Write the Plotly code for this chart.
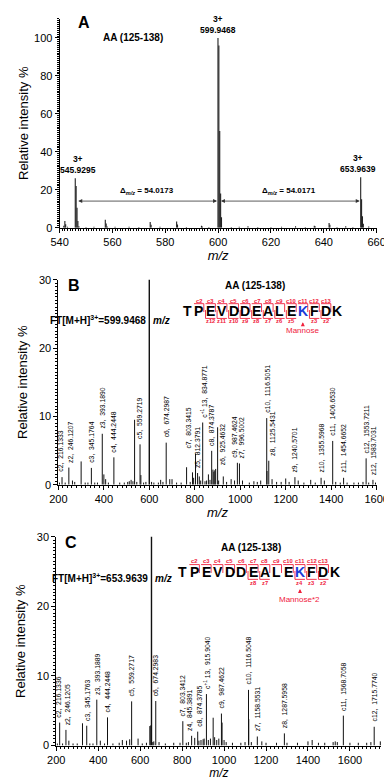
import plotly.graph_objects as go

W, H = 392, 779
FONT = "Liberation Sans, Arial, sans-serif"

# ---------------- DATA ----------------
# Panel A: MS1 spectrum (m/z, relative intensity %)
A_mz = [541.6, 542.0, 542.3, 543.0, 545.93, 546.26, 546.60, 546.93, 547.3, 550.0, 553.0,
        557.3, 557.63, 558.0, 561.0, 566.3, 570.0, 574.3, 574.63, 578.0, 584.3, 584.63,
        588.0, 593.7, 594.0, 596.5, 599.95, 600.28, 600.61, 600.95, 601.28, 605.0, 608.0,
        611.3, 615.0, 620.0, 624.0, 629.3, 633.0, 636.4, 636.7, 642.0, 642.3, 645.0, 648.3,
        651.0, 653.96, 654.30, 654.63, 654.96, 657.0]
A_int = [1.0, 3.5, 1.8, 0.5, 26, 22, 10.5, 3.5, 0.8, 0.4, 0.5,
         4.2, 2.2, 0.6, 0.5, 0.5, 0.4, 3.0, 1.5, 0.5, 3.2, 1.6,
         0.4, 1.0, 0.6, 0.4, 100, 96, 51, 18, 5.5, 0.4, 0.5,
         0.8, 0.4, 0.4, 0.5, 0.7, 0.4, 1.0, 0.8, 2.5, 1.5, 0.4, 0.7,
         0.4, 26.5, 15, 6, 2, 0.6]
A_ion_mz = [545.9295, 599.9468, 653.9639]
A_ion_int = [26, 100, 26.5]
A_ion_text = ["3+<br>545.9295", "3+<br>599.9468", "3+<br>653.9639"]
A_delta_text = ["Δ<sub><i>m/z</i></sub> = 54.0173", "Δ<sub><i>m/z</i></sub> = 54.0171"]

# Panel B: ETD spectrum of precursor 599.9468
B_prec_mz, B_prec_int = 599.9468, 100
B_ion_name = ["c2", "z2", "c3", "z3", "c4", "c5", "c6", "c7", "z5", "c<sup>+1</sup> 13", "c8",
              "z6", "c9", "z7", "c10", "z8", "z9", "z10", "c11", "z11", "c12", "z12"]
B_ion_mz = [216.1333, 246.1207, 345.1764, 393.1890, 444.2448, 559.2719, 674.2987, 803.3415,
            812.3791, 834.8771, 874.3787, 925.4632, 987.4624, 996.5002, 1116.5051, 1125.5431,
            1240.5701, 1355.5968, 1406.6530, 1454.6652, 1553.7211, 1583.7031]
B_ion_int = [1.1, 2.5, 2.45, 7.45, 4.0, 5.9, 6.15, 4.55, 1.7, 9.1, 4.95,
             1.2, 3.2, 3.1, 9.75, 3.5, 1.1, 1.0, 6.4, 1.0, 3.85, 0.7]
B_other_mz = [205, 230, 262, 272, 300.2, 318, 330, 360, 372, 400.2, 408, 420, 470, 490, 505,
              512, 520, 528, 535.3, 545, 563, 575, 585, 610, 620, 640, 650, 660, 690, 700, 720,
              740, 764, 780, 790, 795, 820, 826, 845, 852, 860, 867, 880, 884, 888, 892, 900.5,
              905, 940, 960, 975, 1010, 1040, 1060, 1075, 1090, 1117.8, 1140, 1160, 1180, 1200,
              1215, 1255, 1280, 1310, 1330, 1370, 1420, 1440, 1470, 1500, 1520, 1540, 1565, 1595]
B_other_int = [0.3, 0.3, 0.6, 0.4, 3.4, 0.3, 0.3, 0.3, 0.3, 1.5, 0.8, 0.3, 0.3, 0.3, 0.4,
               0.5, 0.7, 0.5, 9.5, 0.4, 1.4, 0.3, 0.4, 0.4, 0.3, 0.3, 0.7, 0.4, 0.8, 0.8, 0.3,
               0.3, 2.55, 0.4, 1.8, 1.0, 1.2, 0.6, 0.5, 0.6, 1.5, 0.7, 2.2, 1.9, 2.1, 2.3, 8.4,
               0.6, 0.4, 0.8, 0.6, 0.6, 0.3, 0.5, 0.4, 0.6, 2.0, 0.8, 0.4, 0.4, 0.9,
               0.4, 0.6, 0.3, 0.7, 0.3, 0.6, 0.4, 0.3, 0.3, 0.3, 0.3, 0.4, 0.3, 0.3]

# Panel C: ETD spectrum of precursor 653.9639
C_prec_mz, C_prec_int = 653.9639, 100
C_ion_name = ["c2", "z2", "c3", "z3", "c4", "c5", "c6", "c7", "z4", "c8", "c<sup>+1</sup> 13",
              "c9", "c10", "z7", "z8", "c11", "c12"]
C_ion_mz = [216.1336, 246.1205, 345.1763, 393.1889, 444.2448, 559.2717, 674.2983, 803.3412,
            845.3891, 874.3785, 915.9040, 987.4622, 1116.5048, 1158.5531, 1287.5958,
            1568.7058, 1715.7740]
C_ion_int = [3.3, 2.25, 2.85, 6.6, 4.05, 6.35, 6.4, 3.5, 1.4, 2.0, 7.4, 4.6, 8.0, 1.3, 1.75,
             4.3, 2.7]
C_other_mz = [205, 230, 260, 280, 300, 325, 360, 375, 410, 430, 470, 500, 515, 535, 550, 590,
              610, 630, 646, 650.5, 660, 665, 690, 720, 760, 790, 820, 830, 860, 880, 890, 900,
              905, 925, 935, 948, 955, 965, 975, 990.5, 1000, 1010, 1040, 1080, 1100, 1117.8,
              1130, 1180, 1200, 1250, 1300, 1350, 1400, 1420, 1450, 1480, 1520, 1530, 1540, 1600,
              1640, 1680, 1700, 1745]
C_other_int = [0.3, 0.3, 0.7, 0.3, 0.3, 3.2, 0.3, 0.3, 0.7, 0.3, 0.3, 0.4, 0.8, 0.7, 0.9, 1.0,
               0.3, 0.4, 2.8, 2.9, 0.5, 0.6, 0.5, 0.3, 0.4, 0.4, 0.4, 0.5, 1.1, 0.7, 0.8, 0.9,
               1.0, 0.8, 1.0, 4.0, 1.2, 0.8, 1.0, 3.3, 0.8, 0.5, 0.4, 0.4, 0.5, 3.8,
               0.5, 0.6, 0.4, 0.4, 0.4, 0.4, 0.6, 0.8, 0.4, 0.4, 0.5, 0.6, 0.5, 0.4,
               0.4, 0.4, 0.5, 0.6]

SEQ = ["T", "P", "E", "V", "D", "D", "E", "A", "L", "E", "K", "F", "D", "K"]
B_c_ions = [2, 3, 4, 5, 6, 7, 8, 9, 10, 11, 12, 13]
B_z_ions = [12, 11, 10, 9, 8, 7, 6, 5, 3, 2]
C_c_ions = [2, 3, 4, 5, 6, 7, 8, 9, 10, 11, 12, 13]
C_z_ions = [8, 7, 4, 3, 2]
MOD_SITE = 10  # index of modified K

# ---------------- HELPERS ----------------
def px(x):
    return x / W

def py(y):
    return 1 - y / H

def sticks(mz, inten):
    xs, ys = [], []
    for m, i in zip(mz, inten):
        xs += [m, m, None]
        ys += [0, i, None]
    return xs, ys

fig = go.Figure()

# Panel A
xs, ys = sticks(A_mz, A_int)
fig.add_trace(go.Scatter(x=xs, y=ys, mode="lines", line=dict(color="#222", width=1.1),
                         xaxis="x", yaxis="y", showlegend=False, hoverinfo="skip"))
# Panel B
xs, ys = sticks(B_other_mz + B_ion_mz, B_other_int + B_ion_int)
fig.add_trace(go.Scatter(x=xs, y=ys, mode="lines", line=dict(color="#111", width=1),
                         xaxis="x2", yaxis="y2", showlegend=False, hoverinfo="skip"))
xs, ys = sticks([B_prec_mz], [B_prec_int])
fig.add_trace(go.Scatter(x=xs, y=ys, mode="lines", line=dict(color="#111", width=1.4),
                         xaxis="x2", yaxis="y2", showlegend=False, hoverinfo="skip"))
# Panel C
xs, ys = sticks(C_other_mz + C_ion_mz, C_other_int + C_ion_int)
fig.add_trace(go.Scatter(x=xs, y=ys, mode="lines", line=dict(color="#111", width=1),
                         xaxis="x3", yaxis="y3", showlegend=False, hoverinfo="skip"))
xs, ys = sticks([C_prec_mz], [C_prec_int])
fig.add_trace(go.Scatter(x=xs, y=ys, mode="lines", line=dict(color="#111", width=1.4),
                         xaxis="x3", yaxis="y3", showlegend=False, hoverinfo="skip"))

tickfont = dict(family=FONT, size=11, color="black")
titlefont = dict(family=FONT, size=13, color="black")

def xax(domain, rng, anchor, dt, minor_dt, standoff=4, tsize=13):
    return dict(domain=domain, range=rng, anchor=anchor, showline=True, linecolor="black",
                linewidth=1, ticks="outside", ticklen=4, tickwidth=1, tickcolor="black",
                dtick=dt, showgrid=False, zeroline=False, tickfont=tickfont,
                minor=dict(ticks="outside", ticklen=2, dtick=minor_dt, tickcolor="black"),
                title=dict(text="<i>m/z</i>", font=dict(titlefont, size=tsize),
                           standoff=standoff))

def yax(domain, rng, anchor, dt, minor_dt, standoff):
    return dict(domain=domain, range=rng, anchor=anchor, showline=True, linecolor="black",
                linewidth=1, ticks="outside", ticklen=4, tickwidth=1, tickcolor="black",
                dtick=dt, showgrid=False, zeroline=False, tickfont=tickfont,
                minor=dict(ticks="outside", ticklen=2, dtick=minor_dt, tickcolor="black"),
                title=dict(text="Relative intensity %", font=titlefont, standoff=standoff))

fig.update_layout(
    width=W, height=H, margin=dict(l=0, r=0, t=0, b=0),
    paper_bgcolor="white", plot_bgcolor="white", showlegend=False,
    font=dict(family=FONT, color="black"),
    xaxis=xax([px(45), px(380)], [540, 660], "y", 20, 1),
    yaxis=yax([py(217), py(5)], [0, 110], "x", 20, 1, 2),
    xaxis2=xax([px(43.7), px(380)], [200, 1600], "y2", 200, 20),
    yaxis2=yax([py(478), py(270)], [0, 30], "x2", 10, 0.5, 8),
    xaxis3=xax([px(41.5), px(385)], [200, 1750], "y3", 200, 20, 0, 12),
    yaxis3=yax([py(743), py(531)], [0, 30], "x3", 10, 0.5, 8),
)

ann = []
shapes = []

def paper_text(x, y, text, size, bold=True, color="black", xanchor="center", yanchor="middle"):
    t = f"<b>{text}</b>" if bold else text
    ann.append(dict(x=px(x), y=py(y), xref="paper", yref="paper", text=t, showarrow=False,
                    font=dict(family=FONT, size=size, color=color), xanchor=xanchor,
                    yanchor=yanchor))

# ---- Panel A annotations ----
paper_text(71, 9, "A", 16)
paper_text(123, 24, "AA (125-138)", 10)
for m, i, t in zip(A_ion_mz, A_ion_int, A_ion_text):
    ann.append(dict(x=m, y=i, xref="x", yref="y", text=f"<b>{t}</b>", showarrow=False,
                    yanchor="bottom", yshift=1, font=dict(family=FONT, size=8.5),
                    xshift=3 if m < 550 else (-3 if m > 650 else 0)))
arrow_y = 14
for (x0, x1), t in zip([(546.3, 599.6), (600.3, 653.6)], A_delta_text):
    ann.append(dict(x=x1, y=arrow_y, ax=x0, ay=arrow_y, xref="x", yref="y", axref="x", ayref="y",
                    text=" ", showarrow=True, arrowhead=2, arrowside="end+start", arrowsize=1,
                    arrowwidth=0.8, arrowcolor="#333", font=dict(size=4)))
    ann.append(dict(x=(x0 + x1) / 2, y=arrow_y, xref="x", yref="y", text=f"<b>{t}</b>",
                    showarrow=False, yanchor="bottom", yshift=3,
                    font=dict(family=FONT, size=8)))

# ---- ion labels for B and C ----
def ion_labels(names, mzs, ints, xr, yr, shifts):
    for n, m, i in zip(names, mzs, ints):
        sx, sy = shifts.get(n, (0, 0))
        ann.append(dict(x=m, y=i, xref=xr, yref=yr, text=f"{n},  {m:.4f}", showarrow=False,
                        textangle=-90, xanchor="center", yanchor="bottom", yshift=3 + sy,
                        xshift=sx, font=dict(family=FONT, size=6.8, color="black")))

B_shifts = {"c2": (-1, 0), "z2": (1, 0), "c7": (-7, 0), "z5": (0, 0), "c9": (-3, 0),
            "z7": (3, 0), "z8": (3, 0), "z6": (0, 6), "c<sup>+1</sup> 13": (1, 0)}
C_shifts = {"c2": (-2, 0), "z2": (1, 0), "z4": (-2, 0), "c8": (1, 0)}
ion_labels(B_ion_name, B_ion_mz, B_ion_int, "x2", "y2", B_shifts)
ion_labels(C_ion_name, C_ion_mz, C_ion_int, "x3", "y3", C_shifts)

# ---- sequence maps ----
RED = "#f0203c"
def seq_map(x0, step, letter_y, c_ions, z_ions, cz_gap, prec_text, ft_y, line_x,
            mod_text, letter, aa_xy, tip, mod_ay):
    paper_text(letter[0], letter[1], letter[2], 16)
    paper_text(aa_xy[0], aa_xy[1], "AA (125-138)", 10)
    paper_text(line_x - 1.5, ft_y, f"FT[M+H]<sup>3+</sup>={prec_text}", 10, xanchor="right")
    paper_text(line_x + 1.5, ft_y, "<i>m/z</i>", 10, xanchor="left")
    xs = [x0 + k * step for k in range(len(SEQ))]
    for k, aa in enumerate(SEQ):
        paper_text(xs[k], letter_y, aa, 14, color="#1a3cd8" if k == MOD_SITE else "black")
    half = step / 2 - 0.9
    ytop, ybot = letter_y - 7.5, letter_y + 7.5
    for n in c_ions:
        k = n - 1
        paper_text(xs[k], letter_y - cz_gap, f"c{n}", 5.8, color=RED)
        shapes.append(dict(type="path", xref="paper", yref="paper",
                           path=f"M {px(xs[k]-half)} {py(ytop)} L {px(xs[k]+half)} {py(ytop)} "
                                f"L {px(xs[k]+half)} {py(letter_y+1)}",
                           line=dict(color=RED, width=0.9)))
    for n in z_ions:
        k = len(SEQ) - n
        paper_text(xs[k], letter_y + cz_gap, f"z{n}", 5.8, color=RED)
        shapes.append(dict(type="path", xref="paper", yref="paper",
                           path=f"M {px(xs[k]+half)} {py(ybot)} L {px(xs[k]-half)} {py(ybot)} "
                                f"L {px(xs[k]-half)} {py(letter_y-1)}",
                           line=dict(color=RED, width=0.9)))
    kx = xs[MOD_SITE]
    ann.append(dict(x=px(kx), y=py(tip), xref="paper", yref="paper", ax=0, ay=mod_ay,
                    text=mod_text, showarrow=True, arrowhead=2, arrowsize=0.8, arrowwidth=1,
                    arrowcolor=RED, font=dict(family=FONT, size=8, color=RED)))

seq_map(180, 12.2, 301.7, B_c_ions, B_z_ions, 10.5, "599.9468", 311, 140.2,
        "Mannose", (60, 276, "B"), (251, 276), 313, 8)
seq_map(175, 12.4, 566.7, C_c_ions, C_z_ions, 11, "653.9639", 573, 142.5,
        "Mannose*2", (57, 537, "C"), (247.5, 542), 584, 10)

fig.update_layout(annotations=ann, shapes=shapes)
fig.write_html("out.html")
